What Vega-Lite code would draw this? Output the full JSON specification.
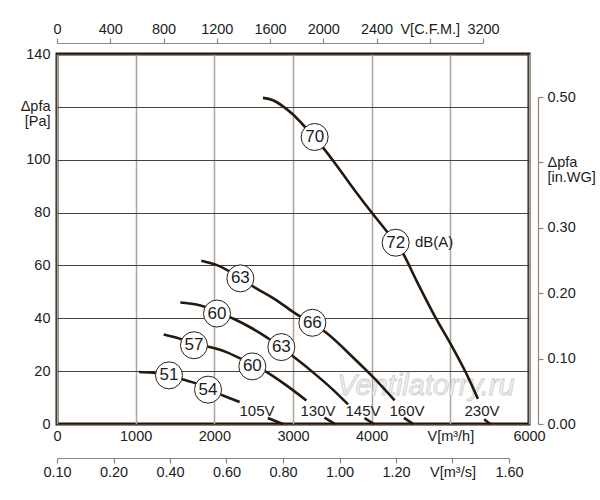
{
  "$schema": "https://vega.github.io/schema/vega-lite/v6.json",
  "width": 472,
  "height": 370,
  "autosize": "none",
  "padding": {"left": 57, "top": 54, "right": 71, "bottom": 76},
  "background": "white",
  "config": {
    "font": "Liberation Sans",
    "view": {"stroke": "#21170e", "strokeWidth": 3},
    "axis": {
      "labelFont": "Liberation Sans",
      "labelFontSize": 14.5,
      "labelColor": "#1c1c1c",
      "domainColor": "#8e867b",
      "tickColor": "#8e867b",
      "tickSize": 5,
      "domainWidth": 1.2,
      "tickWidth": 1.2,
      "labelOverlap": false,
      "labelFlush": false,
      "labelLineHeight": 15
    }
  },
  "datasets": {
    "curves": [
      {"seg": "105a", "q": 1042, "p": 19.7}, {"seg": "105a", "q": 1220, "p": 19.4},
      {"seg": "105a", "q": 1424, "p": 18.5}, {"seg": "105a", "q": 1601, "p": 16.8},
      {"seg": "105a", "q": 1772, "p": 15.3}, {"seg": "105a", "q": 1920, "p": 13.2},
      {"seg": "105a", "q": 2110, "p": 10.8}, {"seg": "105a", "q": 2322, "p": 8.3},
      {"seg": "105b", "q": 2680, "p": 2.3}, {"seg": "105b", "q": 2870, "p": 0},
      {"seg": "130a", "q": 1356, "p": 33.9}, {"seg": "130a", "q": 1560, "p": 32.3},
      {"seg": "130a", "q": 1741, "p": 30.3}, {"seg": "130a", "q": 1941, "p": 29.1},
      {"seg": "130a", "q": 2153, "p": 27.2}, {"seg": "130a", "q": 2322, "p": 24.9},
      {"seg": "130a", "q": 2661, "p": 19.7}, {"seg": "130a", "q": 2916, "p": 14.6},
      {"seg": "130a", "q": 3170, "p": 8.9},
      {"seg": "130b", "q": 3400, "p": 2.4}, {"seg": "130b", "q": 3535, "p": 0},
      {"seg": "145a", "q": 1568, "p": 46.0}, {"seg": "145a", "q": 1771, "p": 45.2},
      {"seg": "145a", "q": 2237, "p": 39.9}, {"seg": "145a", "q": 2449, "p": 36.7},
      {"seg": "145a", "q": 2661, "p": 32.9}, {"seg": "145a", "q": 3000, "p": 25.6},
      {"seg": "145a", "q": 3300, "p": 18.4}, {"seg": "145a", "q": 3500, "p": 13.2},
      {"seg": "145a", "q": 3700, "p": 7.4},
      {"seg": "145b", "q": 3910, "p": 2.2}, {"seg": "145b", "q": 4030, "p": 0},
      {"seg": "160a", "q": 1835, "p": 61.8}, {"seg": "160a", "q": 2026, "p": 60.2},
      {"seg": "160a", "q": 2534, "p": 51.3}, {"seg": "160a", "q": 2788, "p": 46.9},
      {"seg": "160a", "q": 3000, "p": 42.4}, {"seg": "160a", "q": 3424, "p": 34.5},
      {"seg": "160a", "q": 3800, "p": 24.1}, {"seg": "160a", "q": 4016, "p": 17.8},
      {"seg": "160a", "q": 4292, "p": 8.9},
      {"seg": "160b", "q": 4410, "p": 2.3}, {"seg": "160b", "q": 4530, "p": 0},
      {"seg": "230a", "q": 2618, "p": 123.4}, {"seg": "230a", "q": 2745, "p": 122.5},
      {"seg": "230a", "q": 2873, "p": 120.2}, {"seg": "230a", "q": 3000, "p": 117.1},
      {"seg": "230a", "q": 3106, "p": 113.9}, {"seg": "230a", "q": 3402, "p": 103.8},
      {"seg": "230a", "q": 3592, "p": 96.3}, {"seg": "230a", "q": 3805, "p": 87.6},
      {"seg": "230a", "q": 4000, "p": 80.0}, {"seg": "230a", "q": 4207, "p": 72.3},
      {"seg": "230a", "q": 4398, "p": 64.6}, {"seg": "230a", "q": 4567, "p": 54.4},
      {"seg": "230a", "q": 4830, "p": 39.3}, {"seg": "230a", "q": 4991, "p": 31.0},
      {"seg": "230a", "q": 5203, "p": 19.1}, {"seg": "230a", "q": 5351, "p": 9.5},
      {"seg": "230b", "q": 5430, "p": 1.8}, {"seg": "230b", "q": 5505, "p": 0}
    ],
    "circles": [
      {"lab": "70", "q": 3275, "p": 108.6},
      {"lab": "72", "q": 4305, "p": 68.6},
      {"lab": "63", "q": 2331, "p": 55.1},
      {"lab": "66", "q": 3246, "p": 38.3},
      {"lab": "60", "q": 2034, "p": 41.8},
      {"lab": "63", "q": 2852, "p": 29.1},
      {"lab": "57", "q": 1741, "p": 29.8},
      {"lab": "60", "q": 2483, "p": 21.8},
      {"lab": "51", "q": 1424, "p": 18.4},
      {"lab": "54", "q": 1920, "p": 13.0}
    ],
    "volts": [
      {"lab": "105V", "q": 2542, "p": 5.1},
      {"lab": "130V", "q": 3318, "p": 5.1},
      {"lab": "145V", "q": 3890, "p": 4.9},
      {"lab": "160V", "q": 4449, "p": 4.9},
      {"lab": "230V", "q": 5402, "p": 4.9}
    ],
    "units": [{"lab": "dB(A)", "q": 4550, "p": 68.8}],
    "marks": [{"lab": "Ventilatorry.ru", "q": 4690, "p": 14.2}],
    "axTop": [{"cfm": 0, "inwg": 0}, {"cfm": 3200, "inwg": 0.5}],
    "axM3s": [{"m3s": 0}, {"m3s": 1.6}]
  },
  "layer": [
    {
      "encoding": {
        "x": {
          "field": "q",
          "type": "quantitative",
          "scale": {"domain": [0, 6000], "nice": false},
          "axis": {
            "title": null,
            "orient": "bottom",
            "values": [0, 1000, 2000, 3000, 4000, 5000, 6000],
            "format": "d",
            "labelExpr": "datum.value == 5000 ? 'V[m³/h]' : datum.label",
            "grid": true,
            "gridColor": "#aaa59d",
            "gridWidth": 1.5,
            "ticks": false,
            "domain": false,
            "labelPadding": 5
          }
        },
        "y": {
          "field": "p",
          "type": "quantitative",
          "scale": {"domain": [0, 140], "nice": false},
          "axis": {
            "title": null,
            "orient": "left",
            "values": [0, 20, 40, 60, 80, 100, 120, 140],
            "format": "d",
            "labelExpr": "datum.value == 120 ? ['Δpfa', '[Pa]'] : datum.label",
            "grid": true,
            "gridColor": "#4c3f33",
            "gridWidth": 1.2,
            "ticks": false,
            "domain": false,
            "labelPadding": 7
          }
        }
      },
      "layer": [
        {
          "data": {"name": "marks"},
          "mark": {"type": "text", "fontStyle": "italic", "fontSize": 29, "fill": "#f1f1f1", "stroke": "#cdcdcd", "strokeWidth": 0.8},
          "encoding": {"text": {"field": "lab"}}
        },
        {
          "data": {"name": "curves"},
          "mark": {"type": "line", "interpolate": "monotone", "strokeWidth": 2.6, "color": "#24190f"},
          "encoding": {"detail": {"field": "seg"}}
        },
        {
          "data": {"name": "circles"},
          "mark": {"type": "point", "shape": "circle", "filled": true, "fill": "white", "stroke": "#2a1e14", "strokeWidth": 1, "size": 729, "opacity": 1}
        },
        {
          "data": {"name": "circles"},
          "mark": {"type": "text", "fontSize": 17, "color": "#1c1c1c", "baseline": "middle", "align": "center"},
          "encoding": {"text": {"field": "lab"}}
        },
        {
          "data": {"name": "volts"},
          "mark": {"type": "text", "fontSize": 15, "color": "#1c1c1c", "baseline": "middle", "align": "center"},
          "encoding": {"text": {"field": "lab"}}
        },
        {
          "data": {"name": "units"},
          "mark": {"type": "text", "fontSize": 15, "color": "#1c1c1c", "baseline": "middle", "align": "left"},
          "encoding": {"text": {"field": "lab"}}
        }
      ]
    },
    {
      "data": {"name": "axTop"},
      "mark": {"type": "point", "opacity": 0},
      "encoding": {
        "x": {
          "field": "cfm",
          "type": "quantitative",
          "scale": {"domain": [0, 3200], "range": [0, 426], "nice": false},
          "axis": {
            "title": null,
            "orient": "top",
            "offset": 11,
            "values": [0, 400, 800, 1200, 1600, 2000, 2400, 2800, 3200],
            "format": "d",
            "labelExpr": "datum.value == 2800 ? 'V[C.F.M.]' : datum.label",
            "grid": false,
            "labelPadding": 2
          }
        },
        "y": {
          "field": "inwg",
          "type": "quantitative",
          "scale": {"domain": [0, 0.5], "range": [370, 43], "nice": false},
          "axis": {
            "title": null,
            "orient": "right",
            "offset": 9,
            "values": [0, 0.1, 0.2, 0.3, 0.4, 0.5],
            "format": ".2f",
            "labelExpr": "abs(datum.value - 0.4) < 0.001 ? ['Δpfa', '[in.WG]'] : datum.label",
            "grid": false,
            "labelPadding": 4
          }
        }
      }
    },
    {
      "data": {"name": "axM3s"},
      "mark": {"type": "point", "opacity": 0},
      "encoding": {
        "x": {
          "field": "m3s",
          "type": "quantitative",
          "scale": {"domain": [0, 1.6], "range": [0, 452], "nice": false},
          "axis": {
            "title": null,
            "orient": "bottom",
            "offset": 34,
            "values": [0, 0.2, 0.4, 0.6, 0.8, 1.0, 1.2, 1.4, 1.6],
            "format": ".2f",
            "labelExpr": "datum.value == 0 ? '0.10' : abs(datum.value - 1.4) < 0.001 ? 'V[m³/s]' : datum.label",
            "grid": false,
            "labelPadding": 2
          }
        }
      }
    }
  ],
  "resolve": {"scale": {"x": "independent", "y": "independent"}}
}
